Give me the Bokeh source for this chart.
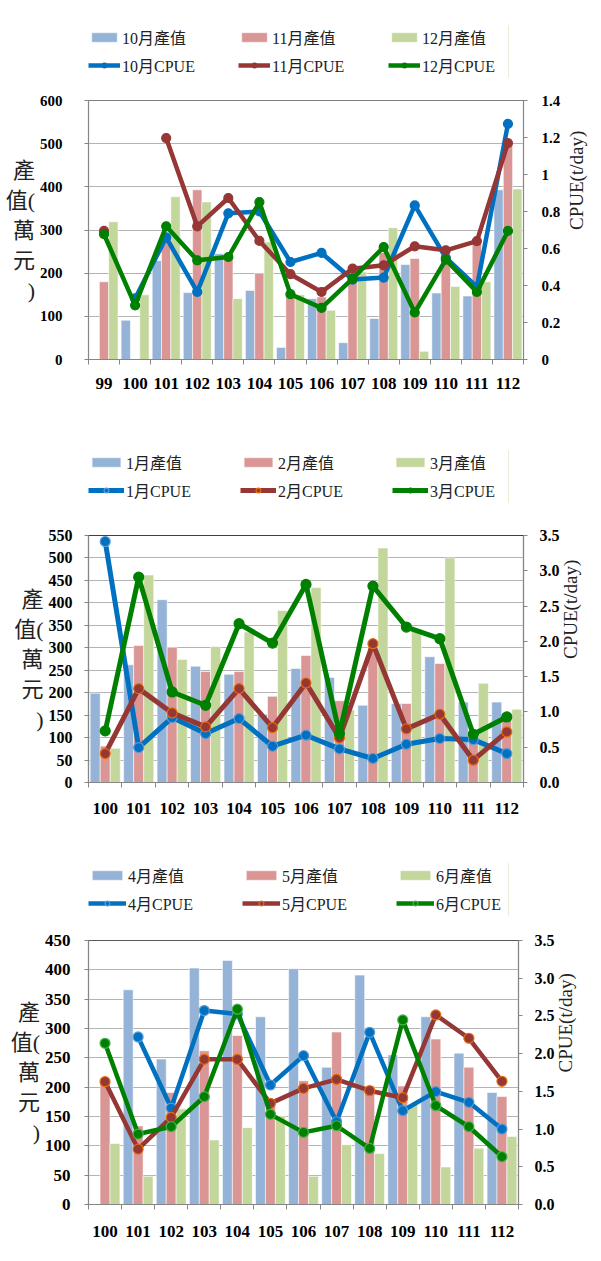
import math
from bokeh.plotting import figure
from bokeh.models import (Range1d, LinearAxis, FixedTicker, NumeralTickFormatter,
                          Legend, LegendItem)
from bokeh.core.properties import value
from bokeh.layouts import column
from bokeh.embed import file_html
from bokeh.resources import INLINE

NaN = float("nan")

# ---------------- data ----------------
p1_years = ["99", "100", "101", "102", "103", "104", "105", "106", "107", "108", "109", "110", "111", "112"]
oct_value = [NaN, 91, 229, 155, 245, 160, 28, 141, 39, 95, 220, 154, 147, 393]
nov_value = [180, NaN, 292, 393, 243, 200, 155, 145, 217, 248, 234, 229, 271, 500]
dec_value = [319, 150, 377, 365, 141, 272, 150, 114, 203, 305, 19, 169, 180, 395]
oct_cpue = [NaN, 0.33, 0.66, 0.365, 0.79, 0.80, 0.527, 0.576, 0.432, 0.443, 0.833, 0.55, 0.392, 1.274]
nov_cpue = [0.695, NaN, 1.197, 0.72, 0.873, 0.641, 0.461, 0.365, 0.491, 0.509, 0.612, 0.59, 0.64, 1.17]
dec_cpue = [0.677, 0.293, 0.72, 0.536, 0.554, 0.851, 0.353, 0.279, 0.437, 0.608, 0.254, 0.54, 0.365, 0.695]

p2_years = ["100", "101", "102", "103", "104", "105", "106", "107", "108", "109", "110", "111", "112"]
jan_value = [199, 262, 407, 259, 241, 152, 254, 234, 172, 176, 280, 179, 179]
feb_value = [81, 305, 301, 247, 247, 192, 283, 182, 309, 176, 265, 112, 155]
mar_value = [76, 462, 274, 303, 335, 383, 434, 162, 522, 342, 500, 221, 163]
jan_cpue = [3.415, 0.495, 0.92, 0.693, 0.906, 0.514, 0.67, 0.476, 0.34, 0.542, 0.623, 0.608, 0.41]
feb_cpue = [0.41, 1.33, 0.986, 0.788, 1.33, 0.778, 1.41, 0.632, 1.967, 0.76, 0.967, 0.316, 0.717]
mar_cpue = [0.731, 2.91, 1.283, 1.094, 2.25, 1.976, 2.807, 0.693, 2.783, 2.203, 2.038, 0.684, 0.929]

p3_years = ["100", "101", "102", "103", "104", "105", "106", "107", "108", "109", "110", "111", "112"]
apr_value = [NaN, 366, 248, 403, 416, 320, 402, 234, 391, 255, 320, 258, 191]
may_value = [209, 134, 191, 262, 288, 178, 211, 294, 202, 202, 282, 234, 184]
jun_value = [104, 48, 163, 110, 131, 151, 48, 102, 87, 170, 64, 96, 116]
apr_cpue = [NaN, 2.221, 1.279, 2.571, 2.527, 1.584, 1.973, 1.097, 2.283, 1.243, 1.496, 1.354, 1.0]
may_cpue = [1.628, 0.734, 1.155, 1.925, 1.925, 1.341, 1.54, 1.659, 1.509, 1.416, 2.513, 2.204, 1.633]
jun_cpue = [2.137, 0.934, 1.031, 1.429, 2.589, 1.195, 0.956, 1.044, 0.743, 2.447, 1.31, 1.031, 0.633]

p1_bar_names = ["10月產值", "11月產值", "12月產值"]
p1_line_names = ["10月CPUE", "11月CPUE", "12月CPUE"]
p2_bar_names = ["1月產值", "2月產值", "3月產值"]
p2_line_names = ["1月CPUE", "2月CPUE", "3月CPUE"]
p3_bar_names = ["4月產值", "5月產值", "6月產值"]
p3_line_names = ["4月CPUE", "5月CPUE", "6月CPUE"]

y_title = "產\n值(\n萬\n元\n)"
y2_title = "CPUE(t/day)"

# ---------------- style ----------------
SERIF = "Liberation Serif, Noto Sans CJK TC"
BAR_COLORS = ["#95B3D7", "#D99694", "#C3D69B"]
LINE_COLORS = ["#0070C0", "#953735", "#008000"]
AXIS_GRAY = "#868686"
GRID_GRAY = "#B3B3B3"
FIG_W = 585
OFFSETS = [-0.3, 0.0, 0.3]


def draw_series(fig, n, bar_series, line_series, cfg, y_name=None):
    xs = [i + 0.5 for i in range(n)]
    bar_rs = []
    for k, vals in enumerate(bar_series):
        r = fig.vbar(x=[x + OFFSETS[k] for x in xs], top=vals, width=0.3, bottom=0,
                     fill_color=BAR_COLORS[k], line_color="white", line_width=0.8,
                     line_alpha=0.7)
        bar_rs.append(r)
    kw = {} if y_name is None else {"y_range_name": y_name}
    line_rs = []
    for k, vals in enumerate(line_series):
        lr = fig.line(xs, vals, line_color=LINE_COLORS[k], line_width=cfg["lw"], **kw)
        sr = fig.scatter(xs, vals, marker="circle", size=cfg["ms"],
                         fill_color=LINE_COLORS[k], line_color=cfg["medge"][k],
                         line_width=1.2, **kw)
        line_rs.append((lr, sr))
    return xs, bar_rs, line_rs


def legend_fig(years, bar_series, line_series, bar_names, line_names, cfg):
    """A strip above each chart that holds its two-row legend; the series are
    drawn here too but lie outside the strip's view, so only the legend shows."""
    q = figure(width=FIG_W, height=cfg["lh"], x_range=Range1d(-3, -2), y_range=Range1d(0, 1),
               x_axis_type=None, y_axis_type=None, output_backend="svg",
               toolbar_location=None, min_border_left=cfg["bl"], min_border_right=cfg["br"],
               min_border_top=cfg["lbt"], min_border_bottom=cfg["lh"] - cfg["lbt"] - 52)
    q.outline_line_color = None
    q.grid.visible = False
    q.background_fill_alpha = 0
    legend_cfg = dict(cfg, ms=7)
    _, bar_rs, line_rs = draw_series(q, len(years), bar_series, line_series, legend_cfg)
    items = [LegendItem(label=value(nm), renderers=[r]) for nm, r in zip(bar_names, bar_rs)]
    items += [LegendItem(label=value(nm), renderers=[lr, sr])
              for nm, (lr, sr) in zip(line_names, line_rs)]
    lg = Legend(items=items, location="top_left", orientation="horizontal", ncols=3,
                border_line_color=None, background_fill_alpha=0, padding=0, margin=0,
                spacing=4, label_standoff=2, glyph_width=cfg["gw"], glyph_height=12,
                label_width=cfg["lwid"], label_height=20,
                label_text_font=SERIF, label_text_font_size="16px",
                label_text_color="#222222")
    q.add_layout(lg, "center")
    return q


def build(years, bar_series, line_series, cfg):
    n = len(years)
    p = figure(frame_width=cfg["fw"], frame_height=cfg["fh"],
               x_range=Range1d(0, n), y_range=Range1d(0, cfg["ymax"]),
               output_backend="svg", toolbar_location=None,
               min_border_left=cfg["bl"], min_border_right=cfg["br"],
               min_border_top=cfg["bt"], min_border_bottom=cfg["bb"])
    p.extra_y_ranges = {"cpue": Range1d(0, cfg["cmax"])}
    p.outline_line_color = cfg.get("outline", "#7F7F7F")
    p.outline_line_width = 1.2
    p.background_fill_color = "white"
    p.border_fill_color = "white"

    xs, _, _ = draw_series(p, n, bar_series, line_series, cfg, y_name="cpue")

    # x axis
    xa = p.xaxis[0]
    xa.ticker = FixedTicker(ticks=xs, minor_ticks=list(range(n + 1)))
    xa.major_label_overrides = {x: y for x, y in zip(xs, years)}
    xa.major_tick_line_color = None
    xa.minor_tick_line_color = AXIS_GRAY
    xa.minor_tick_in = 0
    xa.minor_tick_out = 5
    xa.axis_line_color = AXIS_GRAY
    xa.major_label_standoff = cfg["xstand"]
    xa.major_label_text_font = SERIF
    xa.major_label_text_font_style = "bold"
    xa.major_label_text_font_size = cfg["xfs"]
    xa.major_label_text_color = "black"

    # left axis
    ya = p.yaxis[0]
    ya.ticker = FixedTicker(ticks=cfg["yticks"], minor_ticks=[])
    ya.axis_line_color = AXIS_GRAY
    ya.major_tick_line_color = AXIS_GRAY
    ya.major_tick_in = 0
    ya.major_tick_out = 4
    ya.minor_tick_line_color = None
    ya.major_label_standoff = cfg["ystand"]
    ya.major_label_text_font = SERIF
    ya.major_label_text_font_style = "bold"
    ya.major_label_text_font_size = cfg["yfs"]
    ya.major_label_text_color = "black"
    ya.axis_label = y_title
    ya.axis_label_orientation = "horizontal"
    ya.axis_label_text_font = SERIF
    ya.axis_label_text_font_style = "normal"
    ya.axis_label_text_font_size = cfg["ytfs"]
    ya.axis_label_text_color = "#222222"
    ya.axis_label_standoff = 2

    # right axis
    ra = LinearAxis(y_range_name="cpue",
                    ticker=FixedTicker(ticks=cfg["cticks"], minor_ticks=[]),
                    formatter=NumeralTickFormatter(format=cfg["cfmt"]))
    ra.axis_line_color = AXIS_GRAY
    ra.major_tick_line_color = AXIS_GRAY
    ra.major_tick_in = 0
    ra.major_tick_out = 4
    ra.minor_tick_line_color = None
    ra.major_label_standoff = cfg["cstand"]
    ra.major_label_text_font = SERIF
    ra.major_label_text_font_style = "bold"
    ra.major_label_text_font_size = cfg["cfs"]
    ra.major_label_text_color = "black"
    ra.axis_label = y2_title
    try:
        ra.axis_label_orientation = math.pi / 2
    except Exception:
        ra.axis_label_orientation = "parallel"
    ra.axis_label_text_font = SERIF
    ra.axis_label_text_font_style = "normal"
    ra.axis_label_text_font_size = "19px"
    ra.axis_label_text_color = "#222222"
    ra.axis_label_standoff = cfg["castand"]
    p.add_layout(ra, "right")

    p.xgrid.visible = False
    p.ygrid.grid_line_color = GRID_GRAY
    p.ygrid.grid_line_width = 1.2
    return p


cfg1 = dict(fw=435, fh=259, bl=78, br=72, bt=20, bb=66, ymax=600, cmax=1.4,
            yticks=list(range(0, 601, 100)), cticks=[0, 0.2, 0.4, 0.6, 0.8, 1.0, 1.2, 1.4],
            cfmt="0.[0]", lw=4.5, ms=9, medge=LINE_COLORS,
            xstand=12, xfs="17px", ystand=22, yfs="15px", ytfs="22px",
            cstand=14, cfs="15px", castand=13, outline="#7F7F7F",
            lh=80, lbt=25, gw=32, lwid=112)
cfg2 = dict(fw=435, fh=247, bl=78, br=72, bt=25, bb=63, ymax=550, cmax=3.5,
            yticks=list(range(0, 551, 50)), cticks=[0, 0.5, 1.0, 1.5, 2.0, 2.5, 3.0, 3.5],
            cfmt="0.0", lw=5, ms=10, medge=["#5B9BD5", "#E46C0A", "#008000"],
            xstand=14, xfs="17px", ystand=12, yfs="16px", ytfs="22px",
            cstand=12, cfs="16px", castand=8, outline="#404040",
            lh=85, lbt=25, gw=36, lwid=110)
cfg3 = dict(fw=430, fh=264, bl=88, br=67, bt=20, bb=41, ymax=450, cmax=3.5,
            yticks=list(range(0, 451, 50)), cticks=[0, 0.5, 1.0, 1.5, 2.0, 2.5, 3.0, 3.5],
            cfmt="0.0", lw=4.5, ms=10, medge=["#5B9BD5", "#E46C0A", "#4CAF50"],
            xstand=15, xfs="17px", ystand=14, yfs="17px", ytfs="22px",
            cstand=12, cfs="16px", castand=8, outline="#595959",
            lh=75, lbt=18, gw=38, lwid=110)

p1_bars = [oct_value, nov_value, dec_value]
p1_lines = [oct_cpue, nov_cpue, dec_cpue]
p2_bars = [jan_value, feb_value, mar_value]
p2_lines = [jan_cpue, feb_cpue, mar_cpue]
p3_bars = [apr_value, may_value, jun_value]
p3_lines = [apr_cpue, may_cpue, jun_cpue]

l1 = legend_fig(p1_years, p1_bars, p1_lines, p1_bar_names, p1_line_names, cfg1)
f1 = build(p1_years, p1_bars, p1_lines, cfg1)
l2 = legend_fig(p2_years, p2_bars, p2_lines, p2_bar_names, p2_line_names, cfg2)
f2 = build(p2_years, p2_bars, p2_lines, cfg2)
l3 = legend_fig(p3_years, p3_bars, p3_lines, p3_bar_names, p3_line_names, cfg3)
f3 = build(p3_years, p3_bars, p3_lines, cfg3)

page = column(l1, f1, l2, f2, l3, f3, spacing=0)
open("out.html", "w").write(file_html(page, INLINE))
